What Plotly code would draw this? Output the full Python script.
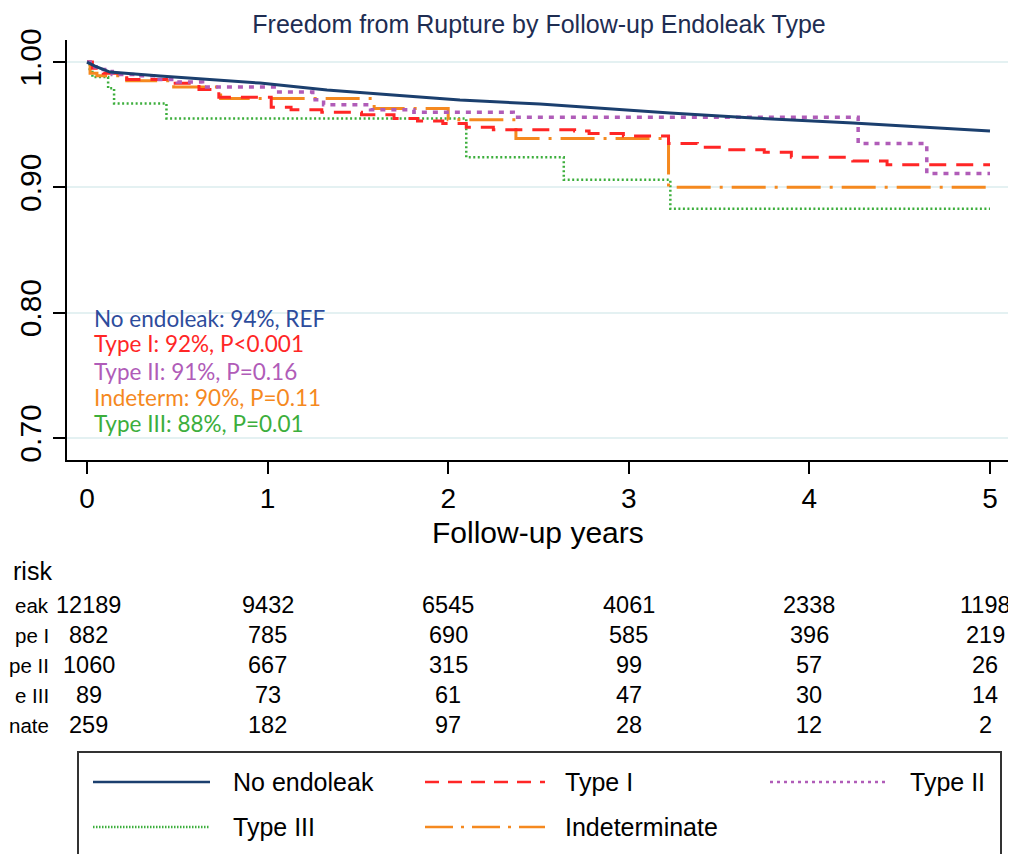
import plotly.graph_objects as go

# ---------------- data ----------------
years = [0, 1, 2, 3, 4, 5]
y_ticks = [0.70, 0.80, 0.90, 1.00]

series_names = ["No endoleak", "Type I", "Type II", "Type III", "Indeterminate"]

no_endoleak_t = [0, 0.044, 0.127, 0.404, 0.958, 1.329, 1.694, 2.065, 2.508, 3.228, 3.688, 4.241, 5.0]
no_endoleak_s = [1.0, 0.9968, 0.9920, 0.9888, 0.9832, 0.9777, 0.9737, 0.9697, 0.9665, 0.9593, 0.9553, 0.9513, 0.9449]

type1_t = [0, 0.03, 0.09, 0.22, 0.44, 0.62, 0.73, 1.02, 1.13, 1.30, 1.52, 1.70, 1.83, 1.97, 2.10, 2.25,
           2.70, 2.78, 2.97, 3.22, 3.38, 3.55, 3.75, 3.90, 4.24, 4.43, 5.0]
type1_s = [1.0, 0.995, 0.991, 0.986, 0.983, 0.978, 0.972, 0.964, 0.962, 0.960, 0.958, 0.955, 0.953, 0.951,
           0.948, 0.946, 0.945, 0.943, 0.941, 0.935, 0.932, 0.930, 0.928, 0.924, 0.921, 0.918, 0.918]

type2_t = [0, 0.044, 0.09, 0.14, 0.28, 0.39, 0.50, 0.64, 1.05, 1.25, 1.31, 1.57, 1.81, 2.36, 4.27, 4.65, 5.0]
type2_s = [1.0, 0.996, 0.994, 0.990, 0.989, 0.986, 0.984, 0.980, 0.976, 0.970, 0.966, 0.962, 0.960, 0.956,
           0.935, 0.911, 0.911]

type3_t = [0, 0.015, 0.03, 0.117, 0.15, 0.44, 2.10, 2.64, 3.23, 5.0]
type3_s = [1.0, 0.992, 0.988, 0.979, 0.967, 0.955, 0.924, 0.906, 0.883, 0.883]

indet_t = [0, 0.017, 0.055, 0.22, 0.48, 0.74, 1.59, 2.00, 2.375, 3.22, 5.0]
indet_s = [1.0, 0.991, 0.989, 0.985, 0.980, 0.971, 0.963, 0.954, 0.939, 0.900, 0.900]

summary_lines = ["No endoleak: 94%, REF", "Type I: 92%, P<0.001", "Type II: 91%, P=0.16",
                 "Indeterm: 90%, P=0.11", "Type III: 88%, P=0.01"]

# the reference is cropped on the left: only the ends of the row labels are visible there
risk_header = "risk"
risk_labels = ["eak", "pe I", "pe II", "e III", "nate"]
risk_no_endoleak = [12189, 9432, 6545, 4061, 2338, 1198]
risk_type1 = [882, 785, 690, 585, 396, 219]
risk_type2 = [1060, 667, 315, 99, 57, 26]
risk_type3 = [89, 73, 61, 47, 30, 14]
risk_indet = [259, 182, 97, 28, 12, 2]

# ---------------- styles ----------------
C_BLUE = "#1b3f6e"
C_BLUE_TXT = "#2d4c9c"
C_RED = "#ff2626"
C_PURPLE = "#b05cb8"
C_ORANGE = "#f5891f"
C_GREEN = "#3cae3c"

styles = {
    "No endoleak": dict(color=C_BLUE, width=3, dash="solid", shape="linear"),
    "Type I": dict(color=C_RED, width=3, dash="17px,10px", shape="hv"),
    "Type II": dict(color=C_PURPLE, width=3.5, dash="5px,6px", shape="hv"),
    "Type III": dict(color=C_GREEN, width=2.5, dash="2px,2.5px", shape="hv"),
    "Indeterminate": dict(color=C_ORANGE, width=3, dash="34px,9px,3px,9px", shape="hv"),
}
legend_dash = {
    "No endoleak": "solid",
    "Type I": "14px,9px",
    "Type II": "3px,4px",
    "Type III": "1.5px,1.5px",
    "Indeterminate": "28px,8px,3px,8px",
}
curves = {
    "No endoleak": (no_endoleak_t, no_endoleak_s),
    "Type I": (type1_t, type1_s),
    "Type II": (type2_t, type2_s),
    "Type III": (type3_t, type3_s),
    "Indeterminate": (indet_t, indet_s),
}

fig = go.Figure()
draw_order = ["Type III", "Indeterminate", "Type I", "Type II", "No endoleak"]
for name in draw_order:
    t, s = curves[name]
    st = styles[name]
    fig.add_trace(go.Scatter(x=t, y=s, mode="lines", name=name, showlegend=False,
                             line=dict(color=st["color"], width=st["width"], dash=st["dash"],
                                       shape=st["shape"])))

ARIAL = "Liberation Sans, Arial, sans-serif"
annotations = []

# page layout: the html body adds an 8px offset, so the figure is 1008x846
OFF = 8
FIG_W, FIG_H = 1016 - OFF, 854 - OFF
PLOT_L, PLOT_R, PLOT_TOP, PLOT_BOTTOM = 67, 1012, 40, 460   # page pixels


def paper_y(py):
    return (PLOT_BOTTOM - py) / (PLOT_BOTTOM - PLOT_TOP)


def paper_x(px):
    return (px - PLOT_L) / (PLOT_R - PLOT_L)


# summary text block
summary_colors = [C_BLUE_TXT, C_RED, C_PURPLE, C_ORANGE, C_GREEN]
summary_y = [0.7957, 0.7757, 0.7534, 0.7326, 0.7119]
for txt, col, yy in zip(summary_lines, summary_colors, summary_y):
    annotations.append(dict(x=0.03, y=yy, xref="x", yref="y", text=txt, showarrow=False,
                            xanchor="left", yanchor="middle",
                            font=dict(family="Lato, sans-serif", size=22.5, color=col)))

# x axis title
annotations.append(dict(x=paper_x(538), y=paper_y(532), xref="paper", yref="paper",
                        text="Follow-up years", showarrow=False, xanchor="center", yanchor="middle",
                        font=dict(family=ARIAL, size=30, color="black")))

# number at risk table
annotations.append(dict(x=paper_x(11), y=paper_y(571), xref="paper", yref="paper",
                        text=risk_header, showarrow=False, xanchor="left", yanchor="middle",
                        font=dict(family=ARIAL, size=25, color="black")))
risk_rows = [risk_no_endoleak, risk_type1, risk_type2, risk_type3, risk_indet]
row_py = [605, 635, 665, 695, 725]
for lab, row, py in zip(risk_labels, risk_rows, row_py):
    annotations.append(dict(x=paper_x(51), y=paper_y(py), xref="paper", yref="paper",
                            text=lab, showarrow=False, xanchor="right", yanchor="middle",
                            font=dict(family=ARIAL, size=20.5, color="black")))
    for yr, val in zip(years, row):
        annotations.append(dict(x=yr, y=paper_y(py), xref="x", yref="paper", text=str(val),
                                showarrow=False, xanchor="center", yanchor="middle",
                                xshift=(-5 if yr == years[-1] else (2 if yr == years[0] else 0)),
                                font=dict(family=ARIAL, size=23.5, color="black")))

# manual legend (box with long line samples)
shapes = [dict(type="rect", xref="paper", yref="paper", x0=paper_x(78), x1=paper_x(1001),
               y0=paper_y(880), y1=paper_y(752), line=dict(color="#333333", width=2),
               fillcolor="rgba(0,0,0,0)")]
legend_pos = {
    "No endoleak": (93, 210, 231, 782),
    "Type I": (425, 545, 563, 782),
    "Type II": (770, 887, 908, 782),
    "Type III": (93, 210, 231, 827),
    "Indeterminate": (425, 545, 563, 827),
}
for name in series_names:
    x0, x1, xt, py = legend_pos[name]
    st = styles[name]
    shapes.append(dict(type="line", xref="paper", yref="paper", x0=paper_x(x0), x1=paper_x(x1),
                       y0=paper_y(py), y1=paper_y(py),
                       line=dict(color=st["color"], width=2.5, dash=legend_dash[name])))
    annotations.append(dict(x=paper_x(xt), y=paper_y(py), xref="paper", yref="paper", text=name,
                            showarrow=False, xanchor="left", yanchor="middle",
                            font=dict(family=ARIAL, size=25, color="black")))

fig.update_layout(
    width=FIG_W, height=FIG_H,
    margin=dict(l=PLOT_L - OFF, r=1016 - PLOT_R, t=PLOT_TOP - OFF, b=854 - PLOT_BOTTOM,
                autoexpand=False),
    paper_bgcolor="white", plot_bgcolor="white",
    title=dict(text="Freedom from Rupture by Follow-up Endoleak Type",
               x=(539 - OFF) / FIG_W, xanchor="center",
               y=1 - (24 - OFF) / FIG_H, yanchor="middle",
               font=dict(family=ARIAL, size=25, color="#1e2d52")),
    annotations=annotations,
    shapes=shapes,
    showlegend=False,
)
fig.update_xaxes(
    range=[-0.1107, 5.1218], tickvals=years, ticktext=[str(v) for v in years],
    showline=True, linecolor="black", linewidth=2, ticks="outside", ticklen=12, tickwidth=2,
    tickcolor="black", showgrid=False, zeroline=False, automargin=False,
    tickfont=dict(family=ARIAL, size=28, color="black"),
)
fig.update_yaxes(
    range=[0.6824, 1.0176], tickvals=y_ticks, ticktext=[f"{v:.2f}" for v in y_ticks],
    showline=True, linecolor="black", linewidth=2, ticks="outside", ticklen=12, tickwidth=2,
    tickcolor="black", showgrid=True, gridcolor="#e4f1f2", gridwidth=2, zeroline=False,
    automargin=False,
    tickangle=-90, tickfont=dict(family=ARIAL, size=30, color="black"),
)

fig.write_html("out.html")
